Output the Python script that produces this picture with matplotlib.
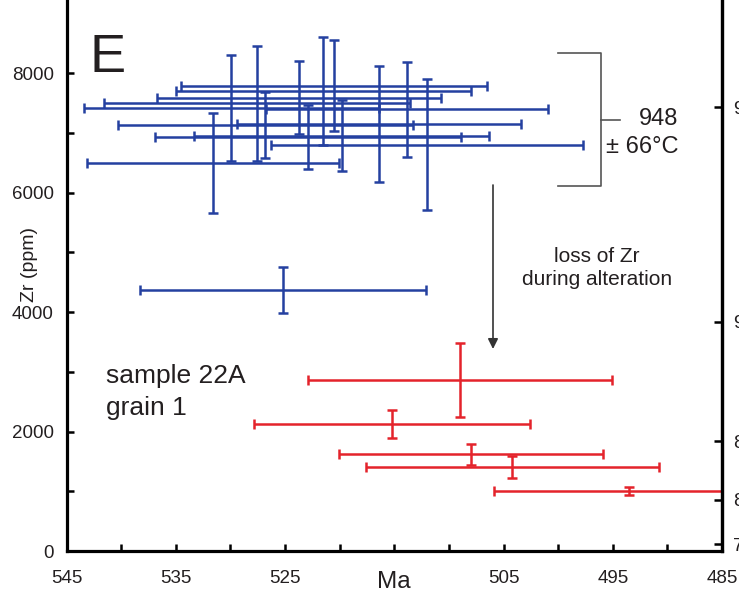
import matplotlib
matplotlib.use("Agg")
import matplotlib.pyplot as plt
from matplotlib.lines import Line2D

plt.rcParams['font.family'] = ['Liberation Sans', 'DejaVu Sans']

# ---- data ----
blue_age = [531.6, 529.9, 527.6, 526.8, 523.7, 522.9, 521.5, 520.5, 519.8, 516.4, 513.8, 512.0, 525.2]
blue_age_err = [11.5, 13.5, 14.0, 13.5, 13.0, 14.0, 13.5, 14.0, 13.5, 13.0, 12.9, 14.3, 13.1]
blue_zr = [6494, 7414, 7490, 7130, 7590, 6929, 7699, 7791, 6954, 7146, 7397, 6803, 4368]
blue_zr_err = [837, 887, 962, 552, 603, 536, 904, 762, 594, 971, 795, 1096, 385]

red_age = [509.0, 515.2, 508.0, 504.2, 493.5]
red_age_err = [13.9, 12.6, 12.1, 13.4, 12.4]
red_zr = [2862, 2126, 1623, 1406, 1004]
red_zr_err = [619, 234, 176, 176, 67]

x_ticks = [545, 540, 535, 530, 525, 520, 515, 510, 505, 500, 495, 490, 485]
x_labels = ['545', '', '535', '', '525', '', '', '', '505', '', '495', '', '485']
y_ticks = [0, 1000, 2000, 3000, 4000, 5000, 6000, 7000, 8000]
y_labels = ['0', '', '2000', '', '4000', '', '6000', '', '8000']
t_ticks_zr = [7431, 3833, 1841, 854, 117]
t_labels = ['950', '900', '850', '800', '700']

BLUE = '#2440a0'
RED = '#e4232b'
INK = '#231f20'
GREY = '#555555'

W, H = 739, 591
fig = plt.figure(figsize=(W / 100, H / 100), dpi=100)
ax = fig.add_axes([66.5 / W, 40 / H, (722 - 66.5) / W, 551 / H])
ax.set_xlim(545, 485)
ax.set_ylim(0, 9222)

ekw = dict(fmt='none', elinewidth=1.8, capsize=3.3, capthick=1.8)
ax.errorbar(blue_age, blue_zr, xerr=blue_age_err, yerr=blue_zr_err, ecolor=BLUE, **ekw)
ax.errorbar(red_age, red_zr, xerr=red_age_err, yerr=red_zr_err, ecolor=RED, **ekw)

ax.spines['top'].set_visible(False)
for s in ['left', 'bottom', 'right']:
    ax.spines[s].set_linewidth(2.3)
    ax.spines[s].set_color('black')

ax.set_xticks(x_ticks)
ax.set_xticklabels(x_labels)
ax.set_yticks(y_ticks)
ax.set_yticklabels(y_labels)
ax.tick_params(axis='both', direction='in', length=5, width=1.8, labelsize=13.5,
               colors='black', labelcolor=INK)
ax.tick_params(axis='x', pad=14)
ax.tick_params(axis='y', pad=9)

ax2 = ax.twinx()
ax2.set_ylim(ax.get_ylim())
ax2.spines['top'].set_visible(False)
ax2.spines['right'].set_linewidth(2.3)
ax2.set_yticks(t_ticks_zr)
ax2.set_yticklabels(t_labels)
ax2.tick_params(axis='y', direction='in', length=6, width=1.8, labelsize=13.5,
                labelcolor=INK, pad=8)


def fx(x):
    return x / W


def fy(y):
    return 1 - y / H


# texts
fig.text(fx(30), fy(265), 'Zr (ppm)', rotation=90, ha='center', va='center', fontsize=14, color=INK)
fig.text(fx(394), fy(588), 'Ma', ha='center', va='baseline', fontsize=17.5, color=INK)
fig.text(fx(90), fy(72), 'E', ha='left', va='baseline', fontsize=39, color=INK)
fig.text(fx(106), fy(383), 'sample 22A', ha='left', va='baseline', fontsize=19, color=INK)
fig.text(fx(106), fy(415), 'grain 1', ha='left', va='baseline', fontsize=19, color=INK)
fig.text(fx(678), fy(125), '948', ha='right', va='baseline', fontsize=17, color=INK)
fig.text(fx(678), fy(153), '\u00b1 66\u00b0C', ha='right', va='baseline', fontsize=17, color=INK)
fig.text(fx(597), fy(262), 'loss of Zr', ha='center', va='baseline', fontsize=15, color=INK)
fig.text(fx(597), fy(285), 'during alteration', ha='center', va='baseline', fontsize=15, color=INK)

# bracket
br = dict(color=GREY, linewidth=1.2, transform=fig.transFigure)
fig.add_artist(Line2D([fx(558), fx(601), fx(601), fx(558)], [fy(53), fy(53), fy(186), fy(186)], **br))
fig.add_artist(Line2D([fx(601), fx(620)], [fy(120), fy(120)], **br))

# arrow
ax.annotate('', xy=(fx(493), fy(349)), xycoords='figure fraction',
            xytext=(fx(493), fy(185)), textcoords='figure fraction',
            arrowprops=dict(arrowstyle='-|>', color='#333333', lw=1.2,
                            mutation_scale=15, shrinkA=0, shrinkB=0))

fig.savefig('out.png', dpi=100)
